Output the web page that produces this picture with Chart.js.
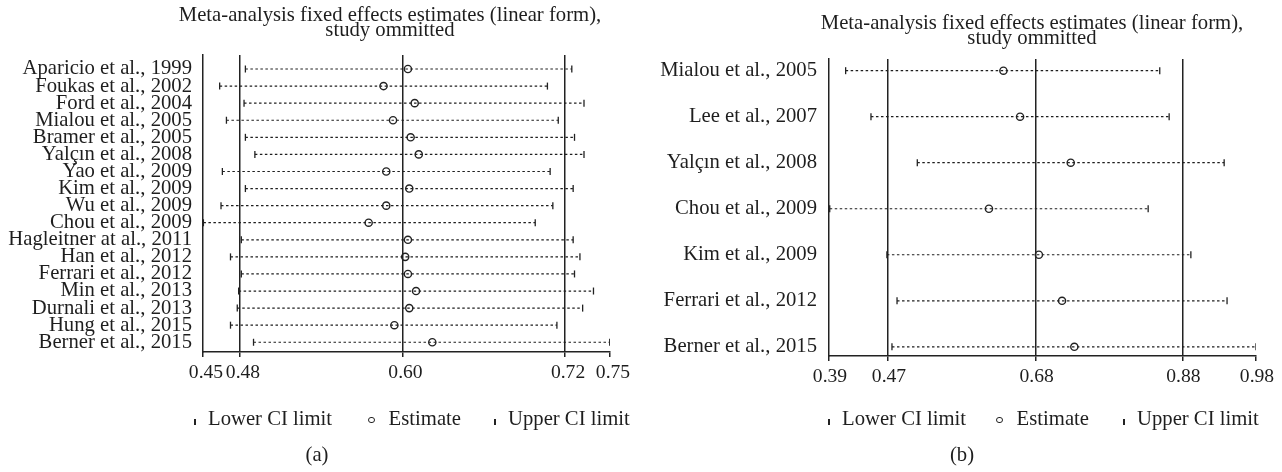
<!DOCTYPE html>
<html>
<head>
<meta charset="utf-8">
<script src="https://cdn.jsdelivr.net/npm/chart.js@4.4.1/dist/chart.umd.min.js"></script>
<style>
    body { margin: 0; background: #fff; }
    #page { position: relative; width: 1282px; height: 472px; overflow: hidden; font-family: 'Liberation Serif', serif; color: #1e1e1e; }
    canvas { position: absolute; top: 0; }
    .title { position: absolute; width: 600px; text-align: center; font-size: 20.7px; line-height: 15px; white-space: nowrap; }
    .legend { position: absolute; top: 408px; font-size: 20.7px; line-height: 20px; white-space: nowrap; }
    .legend .tick { display: inline-block; width: 1.5px; height: 6px; background: #222; margin-right: 12.5px; }
    .legend .dot { display: inline-block; width: 4.5px; height: 4.5px; border: 1.4px solid #222; border-radius: 50%; margin-right: 14px; vertical-align: 2px; }
    .caption { position: absolute; top: 444px; width: 100px; text-align: center; font-size: 20.7px; line-height: 20px; }
</style>
</head>
<body>
<div id="page">
    <canvas id="chartA" width="641" height="472" style="left:0"></canvas>
    <canvas id="chartB" width="641" height="472" style="left:641px"></canvas>

    <div class="title" style="left:90px; top:7px">Meta-analysis fixed effects estimates (linear form),<br>study ommitted</div>
    <div class="title" style="left:732px; top:15px">Meta-analysis fixed effects estimates (linear form),<br>study ommitted</div>

    <div class="legend" style="left:194px">
        <span style="margin-right:36px"><i class="tick"></i>Lower CI limit</span><span style="margin-right:33px"><i class="dot"></i>Estimate</span><span><i class="tick"></i>Upper CI limit</span>
    </div>
    <div class="legend" style="left:828px">
        <span style="margin-right:30px"><i class="tick"></i>Lower CI limit</span><span style="margin-right:34px"><i class="dot"></i>Estimate</span><span><i class="tick"></i>Upper CI limit</span>
    </div>

    <div class="caption" style="left:267px">(a)</div>
    <div class="caption" style="left:912px">(b)</div>
</div>

<script>
// (a) all studies
const studiesA = ['Aparicio et al., 1999', 'Foukas et al., 2002', 'Ford et al., 2004', 'Mialou et al., 2005',
    'Bramer et al., 2005', 'Yalçın et al., 2008', 'Yao et al., 2009', 'Kim et al., 2009', 'Wu et al., 2009',
    'Chou et al., 2009', 'Hagleitner at al., 2011', 'Han et al., 2012', 'Ferrari et al., 2012', 'Min et al., 2013',
    'Durnali et al., 2013', 'Hung et al., 2015', 'Berner et al., 2015'];
const lowerA = [0.484, 0.465, 0.483, 0.470, 0.484, 0.491, 0.467, 0.484, 0.466, 0.453, 0.481, 0.473, 0.481, 0.479, 0.478, 0.473, 0.490];
const estimateA = [0.604, 0.586, 0.609, 0.593, 0.606, 0.612, 0.588, 0.605, 0.588, 0.575, 0.604, 0.602, 0.604, 0.610, 0.605, 0.594, 0.622];
const upperA = [0.725, 0.707, 0.734, 0.715, 0.727, 0.734, 0.709, 0.726, 0.711, 0.698, 0.726, 0.731, 0.727, 0.741, 0.733, 0.714, 0.753];
const overallA = [0.48, 0.60, 0.72];   // lower, estimate, upper of the pooled result
const xRangeA = [0.4527, 0.7532];

// (b) subset
const studiesB = ['Mialou et al., 2005', 'Lee et al., 2007', 'Yalçın et al., 2008', 'Chou et al., 2009',
    'Kim et al., 2009', 'Ferrari et al., 2012', 'Berner et al., 2015'];
const lowerB = [0.413, 0.448, 0.512, 0.391, 0.470, 0.484, 0.477];
const estimateB = [0.631, 0.654, 0.724, 0.611, 0.680, 0.712, 0.729];
const upperB = [0.847, 0.860, 0.936, 0.831, 0.890, 0.940, 0.980];
const overallB = [0.4715, 0.6756, 0.8782];
const xRangeB = [0.39, 0.98];

const ink = '#222';
const labelFont = { family: 'Liberation Serif', size: 20.7 };
const tickFont = { family: 'Liberation Serif', size: 19.6 };

function forestChart(id, names, lower, estimate, upper, overall, xRange, yRange, box) {
    var ciPoints = [];
    var lowPts = [], estPts = [], upPts = [];
    for (var i = 0; i < names.length; i++) {
        ciPoints.push({ x: lower[i], y: i + 1 }, { x: upper[i], y: i + 1 }, { x: null, y: null });
        lowPts.push({ x: lower[i], y: i + 1 });
        estPts.push({ x: estimate[i], y: i + 1 });
        upPts.push({ x: upper[i], y: i + 1 });
    }

    return new Chart(document.getElementById(id), {
        type: 'scatter',
        data: {
            datasets: [
                { label: 'Lower CI limit', data: lowPts, pointStyle: 'line', pointRotation: 90,
                  pointRadius: 3.5, pointBorderWidth: 1.3, pointBorderColor: ink },
                { label: 'Estimate', data: estPts, pointStyle: 'circle', pointRadius: 3.6,
                  pointBorderWidth: 1.4, pointBorderColor: ink, pointBackgroundColor: 'rgba(0,0,0,0)' },
                { label: 'Upper CI limit', data: upPts, pointStyle: 'line', pointRotation: 90,
                  pointRadius: 3.5, pointBorderWidth: 1.3, pointBorderColor: ink },
                { label: 'CI', data: ciPoints, showLine: true, spanGaps: false, pointRadius: 0,
                  borderColor: '#1e1e1e', borderWidth: 1.2, borderDash: [2.5, 2.5] }
            ]
        },
        options: {
            responsive: false,
            animation: false,
            devicePixelRatio: 1,
            layout: { padding: box.padding },
            plugins: {
                legend: { display: false },
                tooltip: { enabled: false }
            },
            scales: {
                x: {
                    type: 'linear',
                    min: xRange[0],
                    max: xRange[1],
                    afterBuildTicks: function(scale) {
                        scale.ticks = [xRange[0]].concat(overall, [xRange[1]]).map(v => ({ value: v }));
                    },
                    afterFit: function(scale) { scale.height = 40; },
                    ticks: {
                        autoSkip: false,
                        maxRotation: 0,
                        padding: 4,
                        labelOffset: box.labelOffset,
                        color: '#1e1e1e',
                        font: tickFont,
                        callback: v => Number(v).toFixed(2)
                    },
                    grid: {
                        color: ctx => (ctx.tick && overall.includes(ctx.tick.value)) ? ink : 'rgba(0,0,0,0)',
                        lineWidth: 1.5,
                        tickColor: ink,
                        tickLength: 5,
                        tickWidth: 1.5
                    },
                    border: { color: ink, width: 1.5 }
                },
                y: {
                    type: 'linear',
                    reverse: true,
                    min: yRange[0],
                    max: yRange[1],
                    afterBuildTicks: function(scale) {
                        scale.ticks = names.map((n, i) => ({ value: i + 1 }));
                    },
                    afterFit: function(scale) { scale.width = box.yWidth; },
                    ticks: {
                        autoSkip: false,
                        padding: box.labelGap,
                        color: '#1e1e1e',
                        font: labelFont,
                        callback: v => names[v - 1]
                    },
                    grid: { display: false, drawTicks: false },
                    border: { color: ink, width: 1.5 }
                }
            }
        }
    });
}

forestChart('chartA', studiesA, lowerA, estimateA, upperA, overallA, xRangeA, [0.18, 17.57],
    { yWidth: 203, labelGap: 11, labelOffset: 3, padding: { top: 55, right: 31, bottom: 80, left: 0 } });

forestChart('chartB', studiesB, lowerB, estimateB, upperB, overallB, xRangeB, [0.746, 7.2],
    { yWidth: 188, labelGap: 12, labelOffset: 1, padding: { top: 59, right: 26, bottom: 76, left: 0 } });
</script>
</body>
</html>
